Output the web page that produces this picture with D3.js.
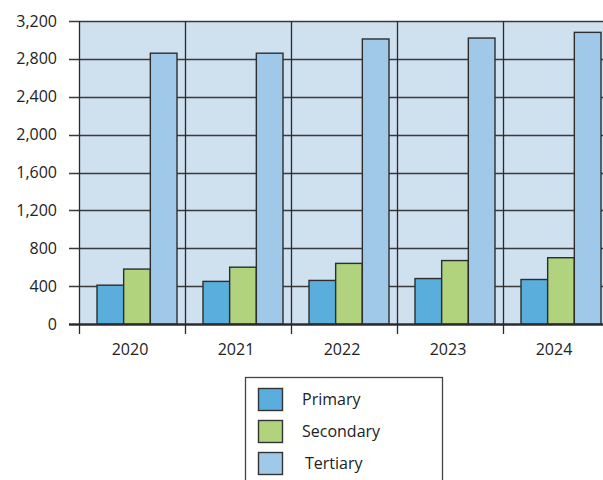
<!DOCTYPE html>
<html>
<head>
<meta charset="utf-8">
<script src="https://cdn.jsdelivr.net/npm/d3@7"></script>
<style>
  body { margin: 0; background: #fff; }
  svg { display: block; font-family: "Open Sans", "Noto Sans", sans-serif; }
  .tick-label { font-size: 16px; fill: #222; }
</style>
</head>
<body>
<div id="chart"></div>
<script>
const years = ["2020", "2021", "2022", "2023", "2024"];
const seriesNames = ["Primary", "Secondary", "Tertiary"];
const primary = [410, 450, 460, 480, 470];
const secondary = [580, 600, 640, 670, 700];
const tertiary = [2860, 2860, 3010, 3020, 3080];
const yTicks = [0, 400, 800, 1200, 1600, 2000, 2400, 2800, 3200];

const colours = {
    Primary: "#5aaedc",
    Secondary: "#b2d37e",
    Tertiary: "#a0c8e8"
};

const width = 603, height = 480;
const plot = { left: 79, right: 609, top: 21, bottom: 324 };

const svg = d3.select("#chart").append("svg")
    .attr("width", width)
    .attr("height", height);

const x = d3.scaleBand()
    .domain(years)
    .range([plot.left, plot.right])
    .padding(0);

const xSub = d3.scaleBand()
    .domain(seriesNames)
    .range([18, 98])
    .padding(0);

const y = d3.scaleLinear()
    .domain([0, 3200])
    .range([plot.bottom, plot.top]);

// plot background
svg.append("rect")
    .attr("x", plot.left)
    .attr("y", plot.top)
    .attr("width", plot.right - plot.left)
    .attr("height", plot.bottom - plot.top)
    .attr("fill", "#cfe0ef");

// horizontal grid + tick marks
svg.append("g").selectAll("line")
    .data(yTicks)
    .enter().append("line")
    .attr("x1", plot.left - 10)
    .attr("x2", plot.right)
    .attr("y1", d => Math.round(y(d)) + 0.5)
    .attr("y2", d => Math.round(y(d)) + 0.5)
    .attr("stroke", "#3a3a3a")
    .attr("stroke-width", d => d === 0 ? 2 : 1.3);

// vertical category lines
svg.append("g").selectAll("line")
    .data(years)
    .enter().append("line")
    .attr("x1", d => Math.round(x(d)) + 0.5)
    .attr("x2", d => Math.round(x(d)) + 0.5)
    .attr("y1", plot.top)
    .attr("y2", plot.bottom + 10)
    .attr("stroke", "#2a2a2a")
    .attr("stroke-width", 1.3);

// y labels
svg.append("g").selectAll("text")
    .data(yTicks)
    .enter().append("text")
    .attr("class", "tick-label")
    .attr("x", plot.left - 22)
    .attr("y", d => y(d))
    .attr("dy", "0.35em")
    .attr("text-anchor", "end")
    .text(d => d3.format(",")(d));

// x labels
svg.append("g").selectAll("text")
    .data(years)
    .enter().append("text")
    .attr("class", "tick-label")
    .attr("x", d => x(d) + x.bandwidth() / 2 - 2)
    .attr("y", plot.bottom + 25)
    .attr("dy", "0.35em")
    .attr("text-anchor", "middle")
    .text(d => d);

// bars
const values = { Primary: primary, Secondary: secondary, Tertiary: tertiary };
const barData = [];
years.forEach((yr, i) => {
    seriesNames.forEach(s => barData.push({ year: yr, series: s, value: values[s][i] }));
});

svg.append("g").selectAll("rect")
    .data(barData)
    .enter().append("rect")
    .attr("x", d => x(d.year) + xSub(d.series))
    .attr("y", d => y(d.value))
    .attr("width", xSub.bandwidth())
    .attr("height", d => plot.bottom - y(d.value))
    .attr("fill", d => colours[d.series])
    .attr("stroke", "#2d2d2d")
    .attr("stroke-width", 1.4);

// redraw baseline over bars
svg.append("line")
    .attr("x1", plot.left - 10)
    .attr("x2", plot.right)
    .attr("y1", Math.round(y(0)) + 0.5)
    .attr("y2", Math.round(y(0)) + 0.5)
    .attr("stroke", "#2a2a2a")
    .attr("stroke-width", 2);

// legend
const legend = svg.append("g").attr("transform", "translate(245,377)");
legend.append("rect")
    .attr("x", 0.5)
    .attr("y", 0.5)
    .attr("width", 197)
    .attr("height", 120)
    .attr("fill", "#fff")
    .attr("stroke", "#444")
    .attr("stroke-width", 1.3);

const item = legend.selectAll("g.item")
    .data(seriesNames)
    .enter().append("g")
    .attr("class", "item")
    .attr("transform", (d, i) => "translate(0," + (11 + i * 32) + ")");

item.append("rect")
    .attr("x", 13.5)
    .attr("y", 0.5)
    .attr("width", 24)
    .attr("height", 22)
    .attr("fill", d => colours[d])
    .attr("stroke", "#333")
    .attr("stroke-width", 1.4);

item.append("text")
    .attr("class", "tick-label")
    .attr("x", (d, i) => i === 2 ? 60 : 57)
    .attr("y", 11)
    .attr("dy", "0.35em")
    .text(d => d);
</script>
</body>
</html>
